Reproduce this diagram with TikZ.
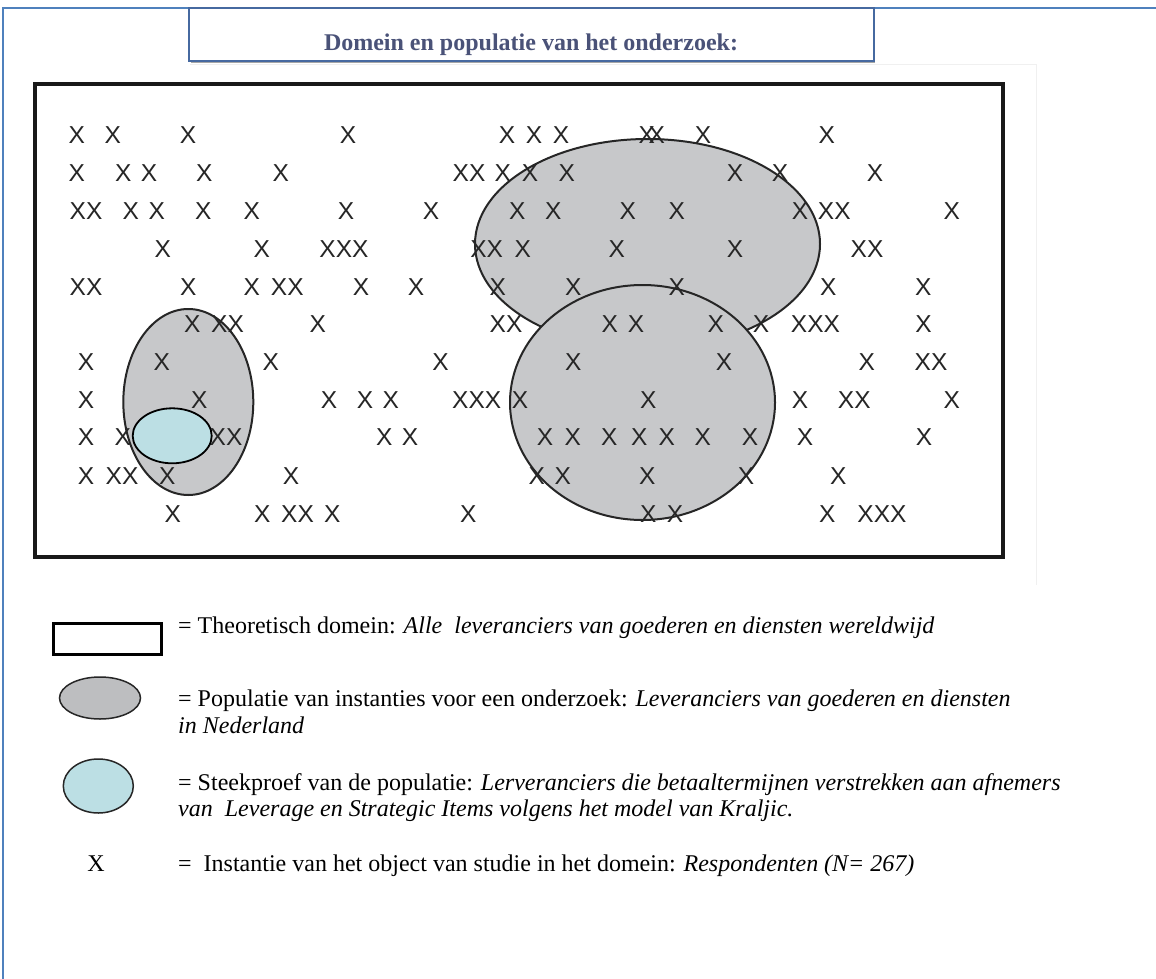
\documentclass[tikz,border=0pt]{standalone}
\usepackage{fontspec}
\setmainfont{Liberation Serif}
\newfontfamily\xfont{Liberation Sans}
\usetikzlibrary{shapes.geometric}

\definecolor{pageblue}{RGB}{79,129,189}
\definecolor{titleblue}{RGB}{70,105,160}
\definecolor{titletext}{RGB}{74,82,120}
\definecolor{popgray}{RGB}{199,200,202}
\definecolor{samplecyan}{RGB}{188,223,228}
\definecolor{markgray}{RGB}{38,38,38}

\tikzset{
  xmark/.style={font=\xfont\fontsize{24.5}{24.5}\selectfont, text=markgray, inner sep=0pt},
  popshape/.style={fill=popgray, draw=markgray, line width=2pt},
  sampleshape/.style={fill=samplecyan, draw=black, line width=1.8pt},
  legendtext/.style={font=\fontsize{24}{27}\selectfont, anchor=base west, inner sep=0pt},
}

\begin{document}
\begin{tikzpicture}[x=1pt,y=-1pt]
  \useasboundingbox (0,0) rectangle (1156,979);
  \fill[white] (0,0) rectangle (1156,979);

  % page frame (top and left edges)
  \draw[pageblue, line width=1.5pt] (3,979) -- (3,8) -- (1156,8);

  % faint edge of the embedded figure
  \draw[black!6, line width=1pt] (190,65) -- (1036,65) -- (1036,585);

  % title box
  \draw[black!35, line width=2pt] (191,62) -- (875,62);
  \node[draw=titleblue, line width=1.5pt, fill=white, minimum width=685pt, minimum height=53pt,
        inner sep=0pt] (titlebox) at (531.5,34.5) {};
  \node[font=\bfseries\fontsize{24}{24}\selectfont, text=titletext, anchor=base, inner sep=0pt]
        (title) at (531,51) {Domein en populatie van het onderzoek:};

  % theoretical domain
  \node[draw=black!90, line width=4pt, minimum width=968pt, minimum height=473pt, inner sep=0pt]
        (domain) at (519,320.5) {};

  % populations
  \node[ellipse, popshape, minimum width=345pt, minimum height=210pt, inner sep=0pt]
        (popA) at (647.5,244) {};
  \node[ellipse, popshape, minimum width=265pt, minimum height=235pt, inner sep=0pt]
        (popB) at (642.5,402.5) {};
  \node[ellipse, popshape, minimum width=130pt, minimum height=186pt, inner sep=0pt]
        (popC) at (188.3,402) {};

  % instances of the object of study
  \foreach \x/\s [count=\i] in {76.7/X,112.7/X,188/X,348/X,507/X,534/X,561/X,646.7/X,656.7/X,703/X,826.7/X}
    \node[xmark] (ra\i) at (\x,135) {\s};
  \foreach \x/\s [count=\i] in {76.7/X,123.3/X,149/X,204.3/X,280.7/X,469/XX,502.7/X,530/X,566.7/X,735/X,780/X,875/X}
    \node[xmark] (rb\i) at (\x,173) {\s};
  \foreach \x/\s [count=\i] in {86/XX,130.7/X,156.7/X,203.3/X,251.7/X,346/X,431/X,517.3/X,553.3/X,627.7/X,676.7/X,800/X,834.3/XX,951.7/X}
    \node[xmark] (rc\i) at (\x,211) {\s};
  \foreach \x/\s [count=\i] in {162.7/X,261.7/X,344/XXX,486.7/XX,522.7/X,616.7/X,735/X,867/XX}
    \node[xmark] (rd\i) at (\x,249) {\s};
  \foreach \x/\s [count=\i] in {86/XX,188.3/X,251.7/X,287.3/XX,361/X,416/X,497.7/X,573.3/X,676.7/X,828.3/X,923.3/X}
    \node[xmark] (re\i) at (\x,287) {\s};
  \foreach \x/\s [count=\i] in {192.3/X,227.5/XX,317.7/X,506/XX,609.7/X,636/X,715.7/X,761/X,815.5/XXX,923.5/X}
    \node[xmark] (rf\i) at (\x,324) {\s};
  \foreach \x/\s [count=\i] in {86/X,161.7/X,270.7/X,440.5/X,573.3/X,724/X,866.7/X,931/XX}
    \node[xmark] (rg\i) at (\x,362) {\s};
  \foreach \x/\s [count=\i] in {86/X,199.3/X,329/X,365/X,390.7/X,476.7/XXX,520/X,648.3/X,800/X,854.3/XX,951.7/X}
    \node[xmark] (rh\i) at (\x,400) {\s};
  \foreach \x/\s [count=\i] in {86/X,122.7/X,226/XX,384.3/X,410/X,545/X,572.7/X,609.3/X,639.3/X,666.7/X,702.7/X,750/X,805/X,924/X}
    \node[xmark] (ri\i) at (\x,437.5) {\s};
  \foreach \x/\s [count=\i] in {86/X,122/XX,167.3/X,291/X,536.7/X,562.7/X,647.3/X,746/X,838.3/X}
    \node[xmark] (rj\i) at (\x,476) {\s};
  \foreach \x/\s [count=\i] in {172.7/X,262.3/X,297.5/XX,332.3/X,468.3/X,648.3/X,675/X,827.3/X,882/XXX}
    \node[xmark] (rk\i) at (\x,514) {\s};

  % sample
  \node[ellipse, sampleshape, minimum width=79pt, minimum height=55pt, inner sep=0pt]
        (sample) at (172.2,435.8) {};

  % legend symbols
  \node[draw=black, line width=3pt, minimum width=108pt, minimum height=31pt, inner sep=0pt]
        (keydomain) at (107.2,638.7) {};
  \node[ellipse, fill=popgray!95!black, draw=black!85, line width=1.5pt, minimum width=81pt,
        minimum height=42pt, inner sep=0pt] (keypop) at (100,698) {};
  \node[ellipse, fill=samplecyan, draw=black!85, line width=1.5pt, minimum width=70pt,
        minimum height=54pt, inner sep=0pt] (keysample) at (98.3,786) {};
  \node[legendtext, anchor=base] (keyx) at (96,871.7) {X};

  % legend texts
  \node[legendtext] (descdomain) at (178,633.3)
    {= Theoretisch domein: \textit{Alle\ \ leveranciers van goederen en diensten wereldwijd}};
  \node[legendtext] (descpopA) at (178,706)
    {= Populatie van instanties voor een onderzoek: \textit{Leveranciers van goederen en diensten}};
  \node[legendtext] (descpopB) at (178,733.3) {\textit{in Nederland}};
  \node[legendtext] (descsampleA) at (178,790)
    {= Steekproef van de populatie: \textit{Lerveranciers die betaaltermijnen verstrekken aan afnemers}};
  \node[legendtext] (descsampleB) at (178,816.7)
    {\textit{van\ \ Leverage en Strategic Items volgens het model van Kraljic.}};
  \node[legendtext] (descx) at (178,871.7)
    {=\ \ Instantie van het object van studie in het domein: \textit{Respondenten (N= 267)}};
\end{tikzpicture}
\end{document}
